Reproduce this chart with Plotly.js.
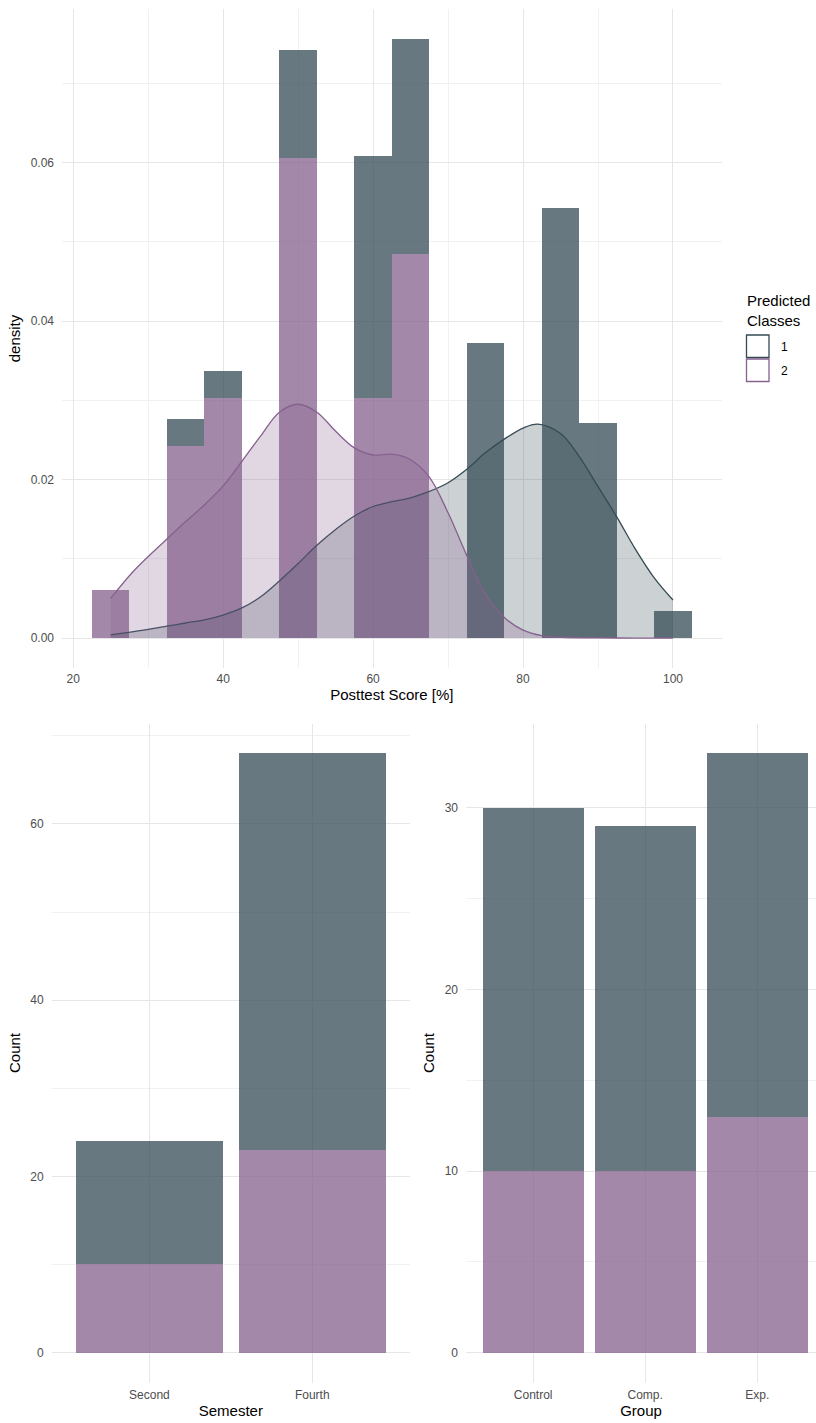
<!DOCTYPE html>
<html>
<head>
<meta charset="utf-8">
<script src="https://cdn.plot.ly/plotly-3.0.1.min.js"></script>
<style>html,body{margin:0;padding:0;background:#fff;}#chart{width:816px;height:1423px;}</style>
</head>
<body>
<div id="chart"></div>
<script>
// ---- Data ----
const binCenters = [25, 30, 35, 40, 45, 50, 55, 60, 65, 70, 75, 80, 85, 90, 95, 100];
const binWidth = 5;
const countsClass1 = [0, 0, 1, 1, 0, 4, 0, 9, 8, 0, 11, 0, 16, 8, 0, 1];
const countsClass2 = [1, 0, 4, 5, 0, 10, 0, 5, 8, 0, 0, 0, 0, 0, 0, 0];

const densX1 = [25, 30, 32.5, 35, 37.5, 40, 42.5, 45, 47.5, 50, 52.5, 55, 57.5, 60, 62.5, 65, 67.5, 70, 72.5, 75, 77.5, 80, 82, 85, 87.5, 90, 92.5, 95, 97.5, 100];
const densY1 = [0.0004, 0.0011, 0.0015, 0.0019, 0.0023, 0.0029, 0.0038, 0.0052, 0.0072, 0.0094, 0.0117, 0.0137, 0.0154, 0.0166, 0.0172, 0.0177, 0.0185, 0.0196, 0.0213, 0.0234, 0.0251, 0.0265, 0.0270, 0.0258, 0.0229, 0.0191, 0.0153, 0.0112, 0.0076, 0.0048];
const densX2 = [25, 28, 32.5, 35, 37.5, 40, 42.5, 45, 47.5, 50, 52.5, 55, 57.5, 60, 62.5, 65, 67.5, 70, 72.5, 75, 77.5, 80, 82.5, 85, 90, 95, 100];
const densY2 = [0.0050, 0.0084, 0.0125, 0.0147, 0.0168, 0.0192, 0.0223, 0.0255, 0.0285, 0.0295, 0.0285, 0.0261, 0.0240, 0.0231, 0.0232, 0.0225, 0.0203, 0.0158, 0.0104, 0.0055, 0.0026, 0.0010, 0.0003, 0.0001, 0.00002, 0.0, 0.0];

const semesters = ['Second', 'Fourth'];
const semesterClass1 = [14, 45];
const semesterClass2 = [10, 23];

const groups = ['Control', 'Comp.', 'Exp.'];
const groupClass1 = [20, 19, 20];
const groupClass2 = [10, 10, 13];

const classNames = ['1', '2'];

// ---- Styles ----
const darkBase = [52, 75, 85];
const purpleBase = [134, 96, 142];
const rgba = (c, a) => `rgba(${c[0]},${c[1]},${c[2]},${a})`;
const barAlpha = 0.75, fillAlpha = 0.25;
const FONT = 'Liberation Sans, Arial, sans-serif';

const n1 = countsClass1.reduce((a, b) => a + b, 0);
const n2 = countsClass2.reduce((a, b) => a + b, 0);
const dens1 = countsClass1.map(c => c / (n1 * binWidth));
const dens2 = countsClass2.map(c => c / (n2 * binWidth));

const traces = [
  {type: 'bar', x: binCenters, y: dens2, width: binWidth, xaxis: 'x', yaxis: 'y',
   marker: {color: rgba(purpleBase, barAlpha), line: {width: 0}}, name: classNames[1], showlegend: false, hoverinfo: 'skip'},
  {type: 'bar', x: binCenters, y: dens1, width: binWidth, xaxis: 'x', yaxis: 'y',
   marker: {color: rgba(darkBase, barAlpha), line: {width: 0}}, name: classNames[0], showlegend: false, hoverinfo: 'skip'},
  {type: 'scatter', mode: 'lines', x: densX1, y: densY1, fill: 'tozeroy', xaxis: 'x', yaxis: 'y',
   fillcolor: rgba(darkBase, fillAlpha), line: {color: rgba(darkBase, 1), width: 1.3, shape: 'spline', smoothing: 1}, showlegend: false, hoverinfo: 'skip'},
  {type: 'scatter', mode: 'lines', x: densX2, y: densY2, fill: 'tozeroy', xaxis: 'x', yaxis: 'y',
   fillcolor: rgba(purpleBase, fillAlpha), line: {color: rgba(purpleBase, 1), width: 1.3, shape: 'spline', smoothing: 1}, showlegend: false, hoverinfo: 'skip'},

  {type: 'bar', x: semesters, y: semesterClass2, width: 0.9, xaxis: 'x2', yaxis: 'y2',
   marker: {color: rgba(purpleBase, barAlpha), line: {width: 0}}, showlegend: false, hoverinfo: 'skip'},
  {type: 'bar', x: semesters, y: semesterClass1, width: 0.9, xaxis: 'x2', yaxis: 'y2',
   marker: {color: rgba(darkBase, barAlpha), line: {width: 0}}, showlegend: false, hoverinfo: 'skip'},

  {type: 'bar', x: groups, y: groupClass2, width: 0.9, xaxis: 'x3', yaxis: 'y3',
   marker: {color: rgba(purpleBase, barAlpha), line: {width: 0}}, showlegend: false, hoverinfo: 'skip'},
  {type: 'bar', x: groups, y: groupClass1, width: 0.9, xaxis: 'x3', yaxis: 'y3',
   marker: {color: rgba(darkBase, barAlpha), line: {width: 0}}, showlegend: false, hoverinfo: 'skip'}
];

const W = 816, H = 1423;
const px = v => v / W;
const py = v => 1 - v / H;

const gridMajor = '#e6e6e6';
const gridMinor = '#f1f1f1';
const tickFont = {family: FONT, size: 12, color: '#4d4d4d'};
const titleFont = {family: FONT, size: 15, color: '#000000'};

function numAxis(extra) {
  return Object.assign({
    showline: false, zeroline: false, ticks: '', showgrid: true,
    gridcolor: gridMajor, gridwidth: 1, tickfont: tickFont, automargin: false,
    fixedrange: true
  }, extra);
}
const minorGrid = vals => ({tickvals: vals, showgrid: true, gridcolor: gridMinor, gridwidth: 1, ticks: ''});

const layout = {
  width: W, height: H,
  margin: {l: 0, r: 0, t: 0, b: 0},
  paper_bgcolor: '#ffffff', plot_bgcolor: 'rgba(0,0,0,0)',
  barmode: 'stack', bargap: 0,
  showlegend: false,
  font: {family: FONT},
  xaxis: numAxis({domain: [px(62), px(721.7)], anchor: 'y', range: [18.5, 106.5],
    tickvals: [20, 40, 60, 80, 100], ticklabelstandoff: 2,
    minor: minorGrid([30, 50, 70, 90]),
    title: {text: 'Posttest Score [%]', font: titleFont, standoff: 4}}),
  yaxis: numAxis({domain: [py(668), py(9)], anchor: 'x', range: [-0.00378, 0.07938],
    tickvals: [0, 0.02, 0.04, 0.06], ticktext: ['0.00', '0.02', '0.04', '0.06'], ticklabelstandoff: 7,
    minor: minorGrid([0.01, 0.03, 0.05, 0.07]),
    title: {text: 'density', font: titleFont, standoff: 6}}),

  xaxis2: numAxis({domain: [px(51.7), px(410)], anchor: 'y2', type: 'category', range: [-0.6, 1.6],
    ticklabelstandoff: 3, title: {text: 'Semester', font: titleFont, standoff: 4}}),
  yaxis2: numAxis({domain: [py(1382.5), py(723.5)], anchor: 'x2', range: [-3.4, 71.4],
    tickvals: [0, 20, 40, 60], ticklabelstandoff: 7,
    minor: minorGrid([10, 30, 50, 70]),
    title: {text: 'Count', font: titleFont, standoff: 6}}),

  xaxis3: numAxis({domain: [px(466), 1], anchor: 'y3', type: 'category', range: [-0.6, 2.525],
    ticklabelstandoff: 3, title: {text: 'Group', font: titleFont, standoff: 4}}),
  yaxis3: numAxis({domain: [py(1382.5), py(723.5)], anchor: 'x3', range: [-1.65, 34.65],
    tickvals: [0, 10, 20, 30], ticklabelstandoff: 7,
    minor: minorGrid([5, 15, 25]),
    title: {text: 'Count', font: titleFont, standoff: 6}}),

  shapes: [
    {type: 'rect', xref: 'paper', yref: 'paper', x0: px(746.5), x1: px(769), y0: py(357.5), y1: py(335),
     line: {color: rgba(darkBase, 1), width: 1.3}, fillcolor: '#ffffff'},
    {type: 'rect', xref: 'paper', yref: 'paper', x0: px(746.5), x1: px(769), y0: py(381.5), y1: py(359),
     line: {color: rgba(purpleBase, 1), width: 1.3}, fillcolor: '#ffffff'}
  ],
  annotations: [
    {xref: 'paper', yref: 'paper', x: px(745), y: py(311), xanchor: 'left', yanchor: 'middle', showarrow: false,
     align: 'left', text: 'Predicted<br>Classes', font: {family: FONT, size: 15, color: '#000'}},
    {xref: 'paper', yref: 'paper', x: px(779), y: py(346.5), xanchor: 'left', yanchor: 'middle', showarrow: false,
     text: classNames[0], font: {family: FONT, size: 12, color: '#000'}},
    {xref: 'paper', yref: 'paper', x: px(779), y: py(370.5), xanchor: 'left', yanchor: 'middle', showarrow: false,
     text: classNames[1], font: {family: FONT, size: 12, color: '#000'}}
  ]
};

Plotly.newPlot('chart', traces, layout, {staticPlot: true, displayModeBar: false});
</script>
</body>
</html>
